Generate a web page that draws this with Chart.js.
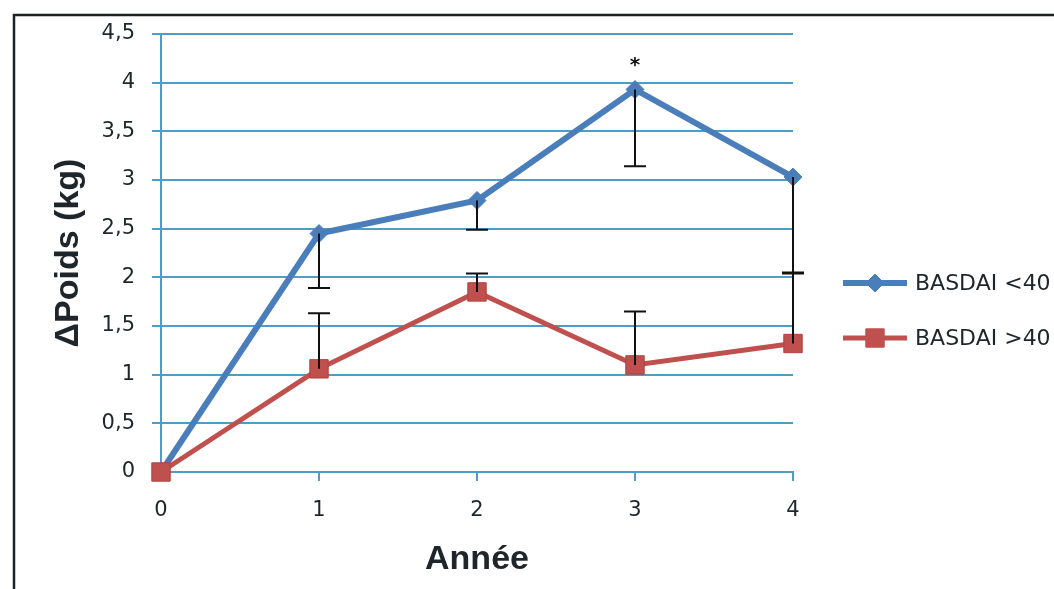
<!DOCTYPE html>
<html><head><meta charset="utf-8">
<script src="https://cdn.jsdelivr.net/npm/chart.js@4.4.1/dist/chart.umd.min.js"></script>
<style>html,body{margin:0;padding:0;background:#fff;}#wrap{width:1054px;height:589px;position:relative;overflow:hidden;}</style>
</head><body><div id="wrap"><canvas id="c" width="1054" height="589"></canvas></div>
<script>
// ---- data ----
const years = [0, 1, 2, 3, 4];
const seriesNames = ['BASDAI <40', 'BASDAI >40'];
const basdaiLow = [0, 2.45, 2.79, 3.93, 3.03];
const basdaiHigh = [0, 1.06, 1.85, 1.10, 1.32];
const basdaiLowErrDown = [0, 0.56, 0.30, 0.79, 0.99];
const basdaiHighErrUp = [0, 0.57, 0.19, 0.55, 0.73];
const significance = ['', '', '', '*', ''];
const yTickValues = [0, 0.5, 1, 1.5, 2, 2.5, 3, 3.5, 4, 4.5];
const xTitle = 'Année';
const yTitle = 'ΔPoids (kg)';

// ---- style ----
const BLUE = '#4a7ebb';
const RED = '#c0504d';
const GRID = '#4f9dc6';
const TXT = '#1e252b';
const FONT = 'DejaVu Sans';
const TITLE_FONT = 'Liberation Sans';

const toPts = arr => years.map((x, i) => ({x: x, y: arr[i]}));

const extras = {
  id: 'extras',
  afterDatasetsDraw(chart) {
    const ctx = chart.ctx, xs = chart.scales.x, ys = chart.scales.y;
    ctx.save();
    ctx.strokeStyle = '#111';
    ctx.lineWidth = 2;
    const bar = (i, from, to) => {
      const px = xs.getPixelForValue(years[i]);
      const p0 = ys.getPixelForValue(from), p1 = ys.getPixelForValue(to);
      ctx.beginPath();
      ctx.moveTo(px, p0); ctx.lineTo(px, p1);
      ctx.moveTo(px - 11, p1); ctx.lineTo(px + 11, p1);
      ctx.stroke();
    };
    years.forEach((_, i) => {
      if (basdaiLowErrDown[i] > 0) bar(i, basdaiLow[i], basdaiLow[i] - basdaiLowErrDown[i]);
      if (basdaiHighErrUp[i] > 0) bar(i, basdaiHigh[i], basdaiHigh[i] + basdaiHighErrUp[i]);
    });
    // significance marks
    ctx.fillStyle = '#111';
    ctx.font = 'bold 20px ' + FONT;
    ctx.textAlign = 'center';
    ctx.textBaseline = 'middle';
    significance.forEach((s, i) => {
      if (!s) return;
      const px = xs.getPixelForValue(years[i]);
      const py = ys.getPixelForValue(Math.max(basdaiLow[i], basdaiHigh[i]));
      ctx.fillText(s, px, py - 24);
    });
    ctx.restore();
  },
  afterDraw(chart) {
    const ctx = chart.ctx;
    ctx.save();
    // legend
    const items = [
      {name: seriesNames[0], color: BLUE, style: 'rectRot', r: 9, y: 283, w: 6},
      {name: seriesNames[1], color: RED, style: 'rect', r: 13, y: 338, w: 5}
    ];
    items.forEach(it => {
      ctx.strokeStyle = it.color;
      ctx.lineWidth = it.w;
      ctx.beginPath();
      ctx.moveTo(843, it.y); ctx.lineTo(907, it.y);
      ctx.stroke();
      ctx.fillStyle = it.color;
      ctx.lineWidth = 1;
      Chart.helpers.drawPoint(ctx, {pointStyle: it.style, radius: it.r, rotation: 0, borderWidth: 1}, 875, it.y);
      ctx.fillStyle = TXT;
      ctx.font = '22px ' + FONT;
      ctx.textAlign = 'left';
      ctx.textBaseline = 'middle';
      ctx.fillText(it.name, 915, it.y + 1);
    });
    // outer frame
    ctx.strokeStyle = '#1c2326';
    ctx.lineWidth = 2.5;
    ctx.beginPath();
    ctx.moveTo(14, 589); ctx.lineTo(14, 15); ctx.lineTo(1054, 15);
    ctx.stroke();
    ctx.restore();
  }
};

new Chart(document.getElementById('c'), {
  type: 'line',
  data: {
    datasets: [
      {label: seriesNames[0], data: toPts(basdaiLow), borderColor: BLUE, backgroundColor: BLUE,
       borderWidth: 6, pointStyle: 'rectRot', pointRadius: 9, pointBorderWidth: 1, order: 2, tension: 0, clip: false},
      {label: seriesNames[1], data: toPts(basdaiHigh), borderColor: RED, backgroundColor: RED,
       borderWidth: 5, pointStyle: 'rect', pointRadius: 13, pointBorderWidth: 1, pointBorderColor: '#b0403d', order: 1, tension: 0, clip: false}
    ]
  },
  options: {
    responsive: false,
    devicePixelRatio: 1,
    animation: false,
    layout: {padding: {top: 34, right: 261, left: 0, bottom: 0}},
    plugins: {legend: {display: false}, tooltip: {enabled: false}},
    scales: {
      x: {
        type: 'linear', min: 0, max: 4,
        afterBuildTicks: s => { s.ticks = years.map(v => ({value: v})); },
        afterFit: s => { s.height = 117; },
        grid: {drawOnChartArea: false, drawTicks: true, tickLength: 9, color: GRID, lineWidth: 2},
        border: {display: true, color: GRID, width: 2},
        ticks: {color: TXT, font: {family: FONT, size: 21}, padding: 17, callback: v => String(v)},
        title: {display: true, text: xTitle, color: TXT, font: {family: TITLE_FONT, size: 34, weight: 'bold'}, padding: {top: 0, bottom: 9}}
      },
      y: {
        type: 'linear', min: 0, max: 4.5,
        afterBuildTicks: s => { s.ticks = yTickValues.map(v => ({value: v})); },
        afterFit: s => { s.width = 161; },
        grid: {color: GRID, lineWidth: 2, tickLength: 9, drawTicks: true},
        border: {display: true, color: GRID, width: 2},
        ticks: {color: TXT, font: {family: FONT, size: 21}, padding: 17, callback: v => String(v).replace('.', ',')},
        title: {display: true, text: yTitle, color: TXT, font: {family: TITLE_FONT, size: 34, weight: 'bold'}, padding: {top: 48, bottom: 0}}
      }
    }
  },
  plugins: [extras]
});
</script>
</body></html>
